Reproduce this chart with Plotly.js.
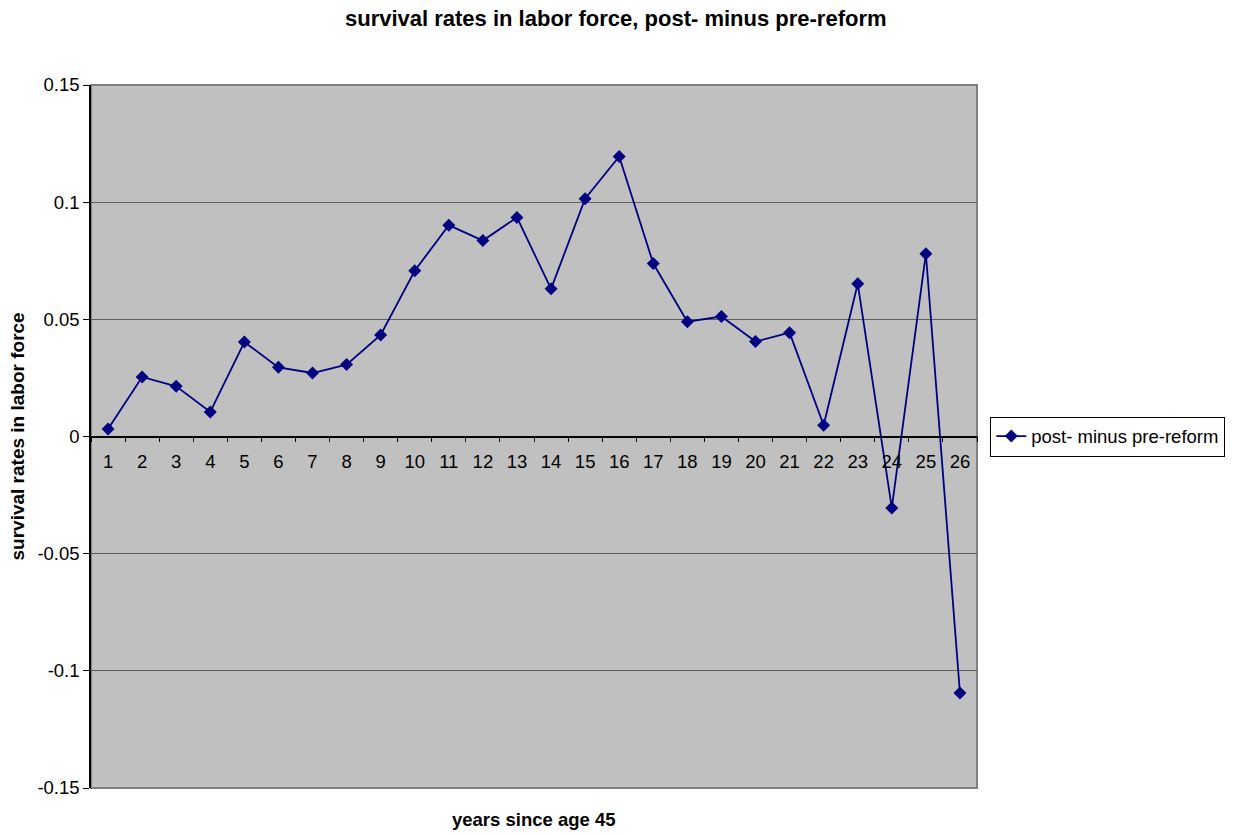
<!DOCTYPE html>
<html>
<head>
<meta charset="utf-8">
<script src="https://cdn.plot.ly/plotly-3.0.1.min.js"></script>
<style>html,body{margin:0;padding:0;background:#fff;}#chart{width:1244px;height:835px;}</style>
</head>
<body>
<div id="chart"></div>
<script>
const categories = ["1","2","3","4","5","6","7","8","9","10","11","12","13","14","15","16","17","18","19","20","21","22","23","24","25","26"];
const seriesName = "post- minus pre-reform";
const values = [0.0032,0.0254,0.0214,0.0105,0.0403,0.0295,0.0271,0.0307,0.0433,0.0707,0.0902,0.0836,0.0935,0.0630,0.1015,0.1195,0.0738,0.0490,0.0512,0.0405,0.0443,0.0048,0.0652,-0.0305,0.0780,-0.1095];
const yTicks = [-0.15,-0.1,-0.05,0,0.05,0.1,0.15];
const yTickLabels = ["-0.15","-0.1","-0.05","0","0.05","0.1","0.15"];

const font = "Liberation Sans, Arial, sans-serif";
const trace = {
  x: categories, y: values, name: seriesName, type: "scatter", mode: "lines+markers",
  line: {color: "#000080", width: 1.8},
  marker: {symbol: "diamond", size: 10, color: "#000080"}
};
const layout = {
  width: 1244, height: 835,
  margin: {l: 91, r: 267, t: 85, b: 47},
  paper_bgcolor: "#ffffff", plot_bgcolor: "#c0c0c0",
  font: {family: font, size: 18.5, color: "#000"},
  title: {text: "survival rates in labor force, post- minus pre-reform", font: {family: font, size: 22, color: "#000", weight: "bold"}, x: 0.495, xanchor: "center", y: 0.978, yanchor: "middle"},
  showlegend: true,
  legend: {x: 1.015, xanchor: "left", y: 0.5, yanchor: "middle", bordercolor: "#000", borderwidth: 1, bgcolor: "#fff", font: {family: font, size: 18.5}},
  xaxis: {
    type: "category", anchor: "free", position: 0.5, range: [-0.5, 25.5], autorange: false,
    showline: true, linecolor: "#000", linewidth: 1.5,
    ticks: "outside", tickson: "boundaries", ticklen: 5, tickcolor: "#000", tickwidth: 1,
    showgrid: false, zeroline: false, ticklabelstandoff: 9,
    tickfont: {family: font, size: 18.5}
  },
  yaxis: {
    range: [-0.15, 0.15], autorange: false, tickvals: yTicks, ticktext: yTickLabels,
    showline: true, linecolor: "#000", linewidth: 1.5,
    ticks: "outside", ticklen: 6, tickcolor: "#000",
    showgrid: true, gridcolor: "#606060", gridwidth: 1, zeroline: false,
    tickfont: {family: font, size: 18.5}
  },
  shapes: [{type: "rect", xref: "paper", yref: "paper", x0: 0, x1: 1, y0: 0, y1: 1, line: {color: "#808080", width: 2}, layer: "below"}],
  annotations: [
    {text: "years since age 45", xref: "paper", yref: "paper", x: 0.5, y: 0, yshift: -31, showarrow: false, xanchor: "center", yanchor: "middle", font: {family: font, size: 18.5, weight: "bold"}},
    {text: "survival rates in labor force", xref: "paper", yref: "paper", x: 0, y: 0.5, xshift: -74, textangle: -90, showarrow: false, xanchor: "center", yanchor: "middle", font: {family: font, size: 19, weight: "bold"}}
  ]
};
Plotly.newPlot("chart", [trace], layout, {displayModeBar: false});
</script>
</body>
</html>
